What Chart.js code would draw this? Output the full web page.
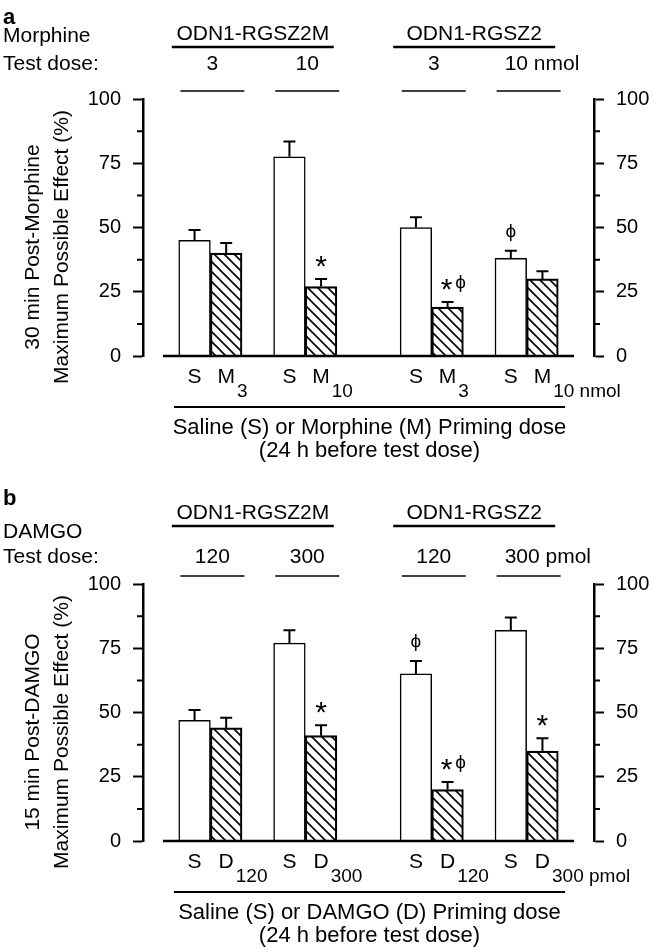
<!DOCTYPE html>
<html>
<head>
<meta charset="utf-8">
<script src="https://cdn.jsdelivr.net/npm/chart.js@4.4.0/dist/chart.umd.min.js"></script>
<style>
  body { margin: 0; background: #fff; }
  canvas { display: block; }
</style>
</head>
<body>
<canvas id="chartA" width="653" height="485"></canvas>
<canvas id="chartB" width="653" height="465"></canvas>
<script>
// panel a : morphine
var groupsA  = ['ODN1-RGSZ2M', 'ODN1-RGSZ2'];
var dosesA   = ['3', '10', '3', '10 nmol'];
var primingA = ['S', 'M', 'S', 'M', 'S', 'M', 'S', 'M'];
var subsA    = ['', '3', '', '10', '', '3', '', '10 nmol'];
var valuesA  = [45, 40, 77.5, 27, 50, 19, 38, 30];
var errorsA  = [4, 4, 6, 3, 4, 2, 3, 3];
var marksA   = ['', '', '', '*', '', '*ϕ', 'ϕ', ''];

// panel b : DAMGO
var groupsB  = ['ODN1-RGSZ2M', 'ODN1-RGSZ2'];
var dosesB   = ['120', '300', '120', '300 pmol'];
var primingB = ['S', 'D', 'S', 'D', 'S', 'D', 'S', 'D'];
var subsB    = ['', '120', '', '300', '', '120', '', '300 pmol'];
var valuesB  = [47, 44, 77, 41, 65, 20, 82, 35];
var errorsB  = [4, 4, 5, 4, 5, 3, 5, 5];
var marksB   = ['', '', '', '*', 'ϕ', '*ϕ', '', '*'];

var yTicks  = [0, 25, 50, 75, 100];
var yMinors = [12.5, 37.5, 62.5, 87.5];

var FONT = "'Liberation Sans', Arial, Helvetica, sans-serif";
Chart.defaults.font.family = FONT;
Chart.defaults.color = '#000';

// bars sit in pairs, one empty slot between pairs of a group, two between groups
function slotOf(i) {
  var p = Math.floor(i / 2), g = Math.floor(p / 2);
  return p * 3 + g + (i % 2);
}

function hatch(ctx) {
  var c = document.createElement('canvas');
  c.width = 10; c.height = 10;
  var g = c.getContext('2d');
  g.strokeStyle = '#000';
  g.lineWidth = 1.6;
  g.beginPath();
  g.moveTo(-1, -1); g.lineTo(11, 11);
  g.moveTo(-1, 9); g.lineTo(1, 11);
  g.moveTo(9, -1); g.lineTo(11, 1);
  g.stroke();
  return ctx.createPattern(c, 'repeat');
}

function panelPlugin(p) {
  return {
    id: 'panel',
    afterDraw: function(chart) {
      var ctx = chart.ctx, xs = chart.scales.x, ys = chart.scales.y, ys2 = chart.scales.y2;
      var base = ys.getPixelForValue(0);
      ctx.save();
      ctx.fillStyle = '#000';
      ctx.strokeStyle = '#000';
      ctx.lineCap = 'butt';

      // minor ticks
      ctx.lineWidth = 2;
      yMinors.forEach(function(v) {
        var py = ys.getPixelForValue(v);
        ctx.beginPath();
        ctx.moveTo(ys.right - 6, py); ctx.lineTo(ys.right, py);
        ctx.moveTo(ys2.left, py); ctx.lineTo(ys2.left + 6, py);
        ctx.stroke();
      });

      // baseline
      var bx0 = xs.getPixelForValue(slotOf(0) - 1);
      var bx1 = xs.getPixelForValue(slotOf(p.values.length - 1) + 1);
      ctx.lineWidth = 2.5;
      ctx.beginPath();
      ctx.moveTo(bx0, base); ctx.lineTo(bx1, base);
      ctx.stroke();

      // error bars and significance marks
      var cx = p.values.map(function(v, i) { return xs.getPixelForValue(slotOf(i)); });
      ctx.lineWidth = 2;
      p.values.forEach(function(v, i) {
        var yt = ys.getPixelForValue(v), ye = ys.getPixelForValue(v + p.errors[i]);
        ctx.beginPath();
        ctx.moveTo(cx[i], yt); ctx.lineTo(cx[i], ye);
        ctx.moveTo(cx[i] - 6, ye); ctx.lineTo(cx[i] + 6, ye);
        ctx.stroke();
        var m = p.marks[i];
        if (!m) return;
        var cy = ye - 20;
        ctx.textAlign = 'center';
        ctx.textBaseline = 'alphabetic';
        if (m === '*') {
          ctx.font = '30px ' + FONT;
          ctx.fillText('*', cx[i], cy + 17);
        } else if (m === 'ϕ') {
          ctx.font = '19px ' + FONT;
          ctx.fillText('ϕ', cx[i], cy + 6);
        } else {
          ctx.font = '30px ' + FONT;
          ctx.fillText('*', cx[i] - 1, cy + 17);
          ctx.font = '19px ' + FONT;
          ctx.fillText('ϕ', cx[i] + 13, cy + 6);
        }
      });

      // x tick labels with subscripts
      ctx.textBaseline = 'middle';
      p.priming.forEach(function(lab, i) {
        ctx.font = '21px ' + FONT;
        ctx.textAlign = 'center';
        ctx.fillText(lab, cx[i], base + 21);
        if (p.subs[i]) {
          var w = ctx.measureText(lab).width;
          ctx.font = '19px ' + FONT;
          ctx.textAlign = 'left';
          ctx.fillText(p.subs[i], cx[i] + w / 2 + 2, base + 36);
        }
      });

      // x title with rule above
      ctx.lineWidth = 2;
      ctx.beginPath();
      ctx.moveTo(bx0 + 11, base + 51); ctx.lineTo(bx1 - 9, base + 51);
      ctx.stroke();
      ctx.font = '22px ' + FONT;
      ctx.textAlign = 'center';
      var tx = (bx0 + 11 + bx1 - 9) / 2;
      ctx.fillText(p.xTitle[0], tx, base + 72);
      ctx.fillText(p.xTitle[1], tx, base + 95);

      // y title
      ctx.save();
      ctx.translate(33, 247);
      ctx.rotate(-Math.PI / 2);
      ctx.font = '21px ' + FONT;
      ctx.textAlign = 'center';
      ctx.fillText(p.yTitle[0], 0, 0);
      ctx.fillText(p.yTitle[1], 0, 29);
      ctx.restore();

      // header
      ctx.textBaseline = 'alphabetic';
      ctx.textAlign = 'left';
      ctx.font = 'bold 22px ' + FONT;
      ctx.fillText(p.letter, 3, p.letterY);
      ctx.font = '21px ' + FONT;
      ctx.fillText(p.drug, 3, p.drugY);
      ctx.fillText('Test dose:', 3, p.doseY);

      var pairC = [0, 1, 2, 3].map(function(k) { return (cx[2 * k] + cx[2 * k + 1]) / 2; });
      ctx.lineWidth = 2.5;
      p.groups.forEach(function(name, g) {
        var gc = (pairC[2 * g] + pairC[2 * g + 1]) / 2 - 5;
        ctx.textAlign = 'center';
        ctx.fillText(name, gc, p.groupY);
        ctx.beginPath();
        ctx.moveTo(gc - 81, p.groupY + 7); ctx.lineTo(gc + 81, p.groupY + 7);
        ctx.stroke();
      });
      ctx.lineWidth = 1.5;
      p.doses.forEach(function(d, k) {
        var lc = pairC[k] + 2;
        ctx.beginPath();
        ctx.moveTo(lc - 32, 91); ctx.lineTo(lc + 32, 91);
        ctx.stroke();
        if (k === p.doses.length - 1) {
          ctx.textAlign = 'left';
          ctx.fillText(d, lc - 24, p.doseY);
        } else {
          ctx.textAlign = 'center';
          ctx.fillText(d, lc, p.doseY);
        }
      });
      ctx.restore();
    }
  };
}

function makeChart(id, p) {
  var canvas = document.getElementById(id);
  var ctx = canvas.getContext('2d');
  var pattern = hatch(ctx);
  var axis = function(pos, w) {
    return {
      position: pos, min: 0, max: 100,
      afterBuildTicks: function(s) { s.ticks = yTicks.map(function(v) { return { value: v }; }); },
      afterFit: function(s) { s.width = w; },
      ticks: { padding: 12, color: '#000', font: { size: 20 } },
      grid: { drawOnChartArea: false, drawTicks: true, tickLength: 10, tickWidth: 2, tickColor: '#000' },
      border: { display: true, color: '#000', width: 2.5 }
    };
  };
  return new Chart(ctx, {
    type: 'bar',
    data: {
      datasets: [{
        data: p.values.map(function(v, i) { return { x: slotOf(i), y: v }; }),
        backgroundColor: p.values.map(function(v, i) { return i % 2 ? pattern : '#fff'; }),
        borderColor: '#000',
        borderWidth: 1.5,
        barPercentage: 1,
        categoryPercentage: 1,
        yAxisID: 'y'
      }]
    },
    options: {
      responsive: false,
      animation: false,
      layout: { padding: { top: 99, bottom: canvas.height - 356, left: 0, right: 0 } },
      plugins: { legend: { display: false }, tooltip: { enabled: false } },
      scales: {
        x: { type: 'linear', display: false, offset: false, min: -1.63, max: 12.63 },
        y: axis('left', 143),
        y2: axis('right', 59)
      }
    },
    plugins: [panelPlugin(p)]
  });
}

makeChart('chartA', {
  letter: 'a', letterY: 24, drug: 'Morphine', drugY: 42, doseY: 70, groupY: 40,
  groups: groupsA, doses: dosesA, priming: primingA, subs: subsA,
  values: valuesA, errors: errorsA, marks: marksA,
  xTitle: ['Saline (S) or Morphine (M) Priming dose', '(24 h before test dose)'],
  yTitle: ['30 min Post-Morphine', 'Maximum Possible Effect (%)']
});

makeChart('chartB', {
  letter: 'b', letterY: 20, drug: 'DAMGO', drugY: 53, doseY: 78, groupY: 34,
  groups: groupsB, doses: dosesB, priming: primingB, subs: subsB,
  values: valuesB, errors: errorsB, marks: marksB,
  xTitle: ['Saline (S) or DAMGO (D) Priming dose', '(24 h before test dose)'],
  yTitle: ['15 min Post-DAMGO', 'Maximum Possible Effect (%)']
});
</script>
</body>
</html>
